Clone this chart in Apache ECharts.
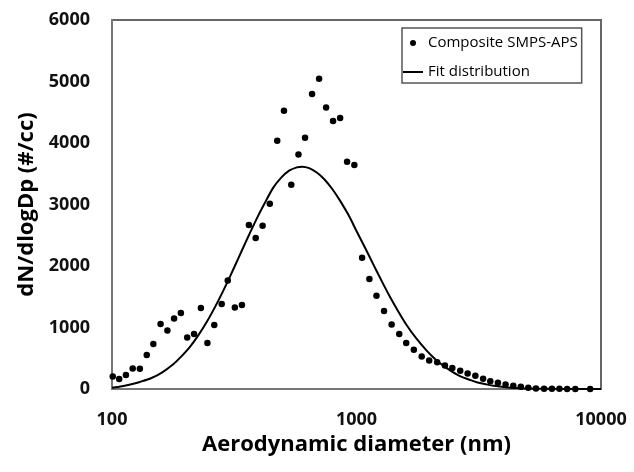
<!DOCTYPE html>
<html>
<head>
<meta charset="utf-8">
<script src="https://cdn.jsdelivr.net/npm/echarts@6/dist/echarts.min.js"></script>
<style>
html,body{margin:0;padding:0;background:#fff;}
#chart{width:634px;height:472px;}
</style>
</head>
<body>
<div id="chart"></div>
<script>
// Composite SMPS-APS measurements (diameter nm, dN/dlogDp #/cc)
var scatterD = [100.7,107,114,121.5,130,138.7,147.6,158,168.5,179.4,191.3,203,216.6,231,245.6,262,281,297.5,318,340,363,387,413,442,474,505,541,579,616,658,703,751,802,857,915,980,1054,1129,1207,1296,1392,1496,1597,1716,1848,1983,2138,2300,2465,2656,2848,3063,3295,3525,3788,4070,4378,4700,5040,5420,5850,6300,6760,7270,7850,9030];
var scatterN = [205,163,228,335,330,553,732,1057,953,1148,1236,839,894,1317,748,1040,1382,1766,1327,1366,2667,2455,2655,3013,4037,4525,3322,3815,4086,4797,5046,4579,4358,4407,3696,3642,2135,1789,1517,1268,1050,894,748,639,530,465,433,384,341,298,254,216,167,124,102,75,54,37,21,10,6,4,3,2,1,0];
// Fit distribution curve
var fitD = [100,110,120,130,145,160,178,190,208,225,245,265,285,305,330,356,390,420,456,490,530,570,600,640,690,740,800,860,930,1000,1080,1170,1270,1370,1480,1600,1750,1940,2100,2270,2450,2650,2900,3100,3400,3650,4000,4300,4800,5500,6500,8000,10000];
var fitN = [20,45,76,115,179,267,402,510,682,868,1102,1348,1596,1843,2141,2428,2762,3011,3270,3430,3550,3604,3615,3591,3517,3407,3240,3051,2820,2570,2310,2030,1750,1500,1265,1045,830,620,485,376,288,210,150,110,75,52,33,22,13,7,3,1,0];
var yMin = 0, yMax = 6000, yStep = 1000;
var xMin = 100, xMax = 10000;

var scatterData = scatterD.map(function(d,i){return [d, scatterN[i]];});
var fitData = fitD.map(function(d,i){return [d, fitN[i]];});

var chart = echarts.init(document.getElementById('chart'), null, {renderer:'canvas'});
var FONT = '"Open Sans", "DejaVu Sans", sans-serif';
chart.setOption({
  animation:false,
  backgroundColor:'#ffffff',
  grid:{left:112, right:33, top:20, bottom:83, show:true, borderColor:'#666666', borderWidth:2, backgroundColor:'transparent'},
  legend:{
    left:402, top:28, orient:'vertical',
    borderColor:'#555555', borderWidth:1.5, borderRadius:0,
    padding:[6,4,2,1], itemGap:11, itemWidth:20, itemHeight:6,
    textStyle:{fontFamily:FONT, fontSize:15, color:'#000', lineHeight:18},
    data:[
      {name:'Composite SMPS-APS', icon:'circle', itemStyle:{color:'#000'}},
      {name:'Fit distribution', icon:'path://M0,0L20,0L20,2L0,2Z', itemStyle:{color:'#000'}}
    ]
  },
  xAxis:{
    type:'log', logBase:10, min:xMin, max:xMax, splitNumber:2,
    name:'Aerodynamic diameter (nm)', nameLocation:'middle', nameGap:37,
    nameTextStyle:{fontFamily:FONT, fontSize:22, fontWeight:'bold', color:'#000'},
    axisLine:{show:true, lineStyle:{color:'#777777', width:2}},
    axisTick:{show:false}, splitLine:{show:false}, minorTick:{show:false},
    axisLabel:{fontFamily:FONT, fontSize:18, fontWeight:'bold', color:'#111', margin:22,
      formatter:function(v){return String(Math.round(v));}}
  },
  yAxis:{
    type:'value', min:yMin, max:yMax, interval:yStep,
    name:'dN/dlogDp (#/cc)', nameLocation:'middle', nameGap:73, nameRotate:90,
    nameTextStyle:{fontFamily:FONT, fontSize:22, fontWeight:'bold', color:'#000'},
    axisLine:{show:true, lineStyle:{color:'#777777', width:2}},
    axisTick:{show:false}, splitLine:{show:false},
    axisLabel:{fontFamily:FONT, fontSize:18, fontWeight:'bold', color:'#111', margin:22,
      formatter:function(v){return String(v);}}
  },
  series:[
    {name:'Composite SMPS-APS', type:'scatter', data:scatterData, symbol:'circle', symbolSize:6.5,
      itemStyle:{color:'#000', opacity:1}, z:3},
    {name:'Fit distribution', type:'line', data:fitData, smooth:0.3, symbol:'none', showSymbol:false,
      lineStyle:{color:'#000', width:2}, itemStyle:{color:'#000'}, z:2}
  ]
});
</script>
</body>
</html>
